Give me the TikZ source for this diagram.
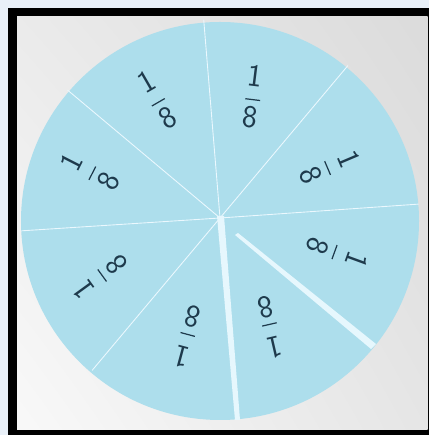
\documentclass[tikz,border=0pt]{standalone}
\usepackage{amsmath}
\usetikzlibrary{shadings}

\definecolor{wallblue}{HTML}{E9F0F8}
\definecolor{cardblue}{HTML}{ADDEEC}
\definecolor{inkblue}{HTML}{1E3A4C}

\begin{document}
\begin{tikzpicture}[x=0.02cm, y=0.02cm, frac/.style={text=inkblue, font=\fontsize{18}{20}\selectfont, inner sep=1pt}, cut/.style={white!92!cyan, line width=0.5pt}]
% backdrop, frame and paper
\fill[wallblue] (0,0) rectangle (429,435);
\useasboundingbox (0,0) rectangle (429,435);
\fill[black] (8,0) rectangle (429,427);
\shade[upper left=gray!16, upper right=gray!28, lower left=gray!5, lower right=gray!20] (17,5) rectangle (427.5,418);
% the cut circle
\coordinate (c) at (220,217);
\fill[cardblue] (220,214) circle (199);
\foreach \a in {94.7, 50, 4, -130, 183.7, 140}{\draw[cut] (c) -- ++(\a:199);}
\fill[white!90!cyan] (217,219) -- (224,219) -- (240,15) -- (235,15) -- cycle;
\fill[white!90!cyan] (235,200) -- (238,202) -- (376,91) -- (371,86) -- cycle;
\foreach \x/\y/\r/\n in {253/338/-7/top, 157/335/30/upleft, 330/268/-67/upright, 337/182/-110/right, 270/108/-167/downright, 187/98/165/down, 100/158/126/downleft, 90/263/63/left}{\node[frac, rotate=\r] (\n) at (\x,\y) {$\dfrac{\textsf{1}}{\textsf{8}}$};}
\end{tikzpicture}
\end{document}
